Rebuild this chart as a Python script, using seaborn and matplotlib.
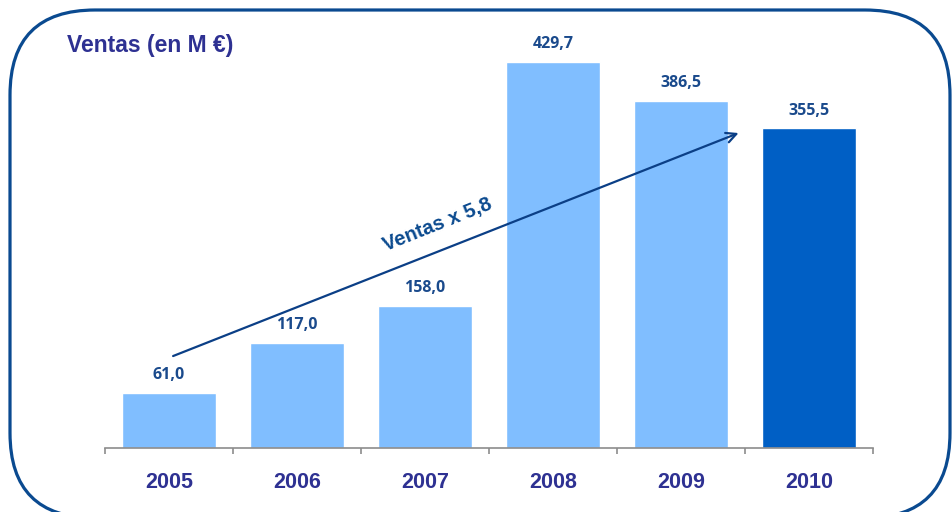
import matplotlib
matplotlib.use("Agg")
import matplotlib.pyplot as plt
import seaborn as sns
import pandas as pd
from matplotlib.patches import FancyBboxPatch
from matplotlib.transforms import IdentityTransform

years = ["2005", "2006", "2007", "2008", "2009", "2010"]
ventas = [61.0, 117.0, 158.0, 429.7, 386.5, 355.5]
value_labels = ["61,0", "117,0", "158,0", "429,7", "386,5", "355,5"]
bar_colors = ["#80BEFF", "#80BEFF", "#80BEFF", "#80BEFF", "#80BEFF", "#005FC5"]
title = "Ventas (en M €)"
arrow_text = "Ventas x 5,8"

sns.set_theme(style="white")
plt.rcParams["font.family"] = ["Liberation Sans", "DejaVu Sans"]

W, H = 952, 512
fig = plt.figure(figsize=(W / 100, H / 100), dpi=100)
ax = fig.add_axes([105 / W, 1 - 448 / H, 768 / W, 404.5 / H])

df = pd.DataFrame({"year": years, "ventas": ventas})
sns.barplot(data=df, x="year", y="ventas", hue="year", palette=bar_colors,
            legend=False, width=0.73, saturation=1, ax=ax, order=years)

ax.set_xlim(-0.5, 5.5)
ax.set_ylim(0, 450)
ax.set_xlabel("")
ax.set_ylabel("")
ax.set_yticks([])
for s in ["top", "right", "left"]:
    ax.spines[s].set_visible(False)
ax.spines["bottom"].set_color("#8C8C8C")
ax.spines["bottom"].set_linewidth(1.2)

# ticks at category boundaries, labels at centers
ax.set_xticks([i - 0.5 for i in range(len(years) + 1)], minor=False)
ax.set_xticklabels([""] * (len(years) + 1))
ax.tick_params(axis="x", which="major", direction="out", length=4, width=1.2,
               color="#8C8C8C", bottom=True)
ax.set_xticks(range(len(years)), minor=True)
ax.set_xticklabels(years, minor=True)
ax.tick_params(axis="x", which="minor", length=0, pad=17.5, labelsize=15.5,
               labelcolor="#2E3192")
for t in ax.get_xticklabels(minor=True):
    t.set_fontweight("bold")

for i, (v, lab) in enumerate(zip(ventas, value_labels)):
    ax.annotate(lab, (i, v), xytext=(0, 7), textcoords="offset points",
                ha="center", va="bottom", fontsize=11.5, fontweight="bold",
                color="#1A4A8C", family=["Open Sans", "DejaVu Sans"])

# trend arrow
ax.annotate("", xy=(4.45, 350.4), xytext=(0.032, 102.3),
            arrowprops=dict(arrowstyle="->", color="#0B3F86", lw=1.6,
                            mutation_scale=18, shrinkA=0, shrinkB=0),
            annotation_clip=False)
ax.text(2.096, 248, arrow_text, rotation=21.7, rotation_mode="anchor",
        ha="center", va="center", fontsize=14.5, fontweight="bold",
        color="#0B4A8F")

fig.text(67 / W, 1 - 52 / H, title, ha="left", va="baseline", fontsize=16.5,
         fontweight="bold", color="#2E3192")

# rounded frame (pixel coordinates, origin bottom-left)
x0, y0_top, x1, y1_bot, r = 10, 10, 950, 518, 85
frame = FancyBboxPatch((x0, H - y1_bot), x1 - x0, y1_bot - y0_top,
                       boxstyle=f"round,pad=0,rounding_size={r}",
                       transform=IdentityTransform(), fill=False,
                       edgecolor="#0A4A90", linewidth=2.3, clip_on=False)
fig.patches.append(frame)

fig.savefig("out.png", dpi=100)
